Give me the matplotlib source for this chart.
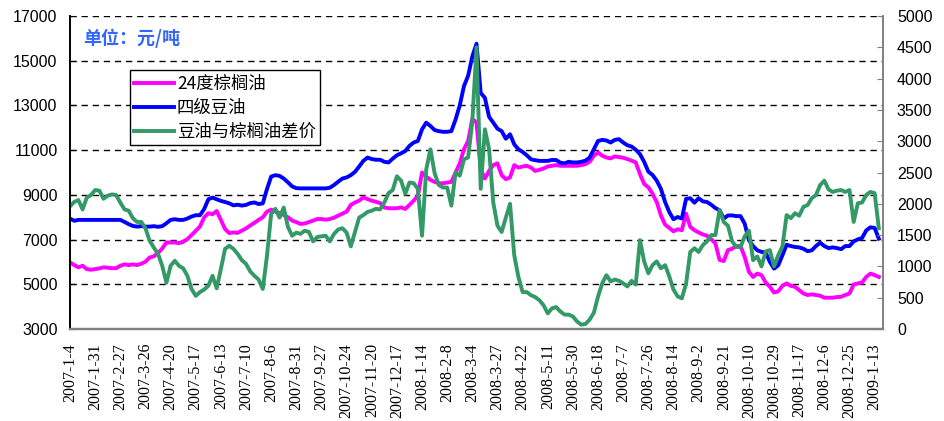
#!/usr/bin/env python3
"""24度棕榈油 vs 四级豆油, with the soy-palm spread on a second axis."""

import matplotlib
matplotlib.use("Agg")
import matplotlib.pyplot as plt
import numpy as np

# tick labels, one every STEP points
DATES = [
    "2007-1-4", "2007-1-31", "2007-2-27", "2007-3-26", "2007-4-20",
    "2007-5-17", "2007-6-13", "2007-7-10", "2007-8-6", "2007-8-31",
    "2007-9-27", "2007-10-24", "2007-11-20", "2007-12-17", "2008-1-14",
    "2008-2-8", "2008-3-4", "2008-3-27", "2008-4-22", "2008-5-11",
    "2008-5-30", "2008-6-18", "2008-7-7", "2008-7-26", "2008-8-14",
    "2008-9-2", "2008-9-21", "2008-10-10", "2008-10-29", "2008-11-17",
    "2008-12-6", "2008-12-25", "2009-1-13",
]
STEP = 6

# 24度棕榈油 (left axis, 元/吨)
PALM = [
    5980, 5860, 5760, 5830, 5680, 5650, 5680, 5710, 5760, 5740,
    5720, 5720, 5830, 5890, 5860, 5890, 5860, 5920, 6010, 6200,
    6250, 6400, 6600, 6870, 6870, 6870, 6840, 6900, 7020, 7200,
    7390, 7580, 7990, 8180, 8130, 8280, 7880, 7470, 7290, 7320,
    7300, 7400, 7500, 7630, 7750, 7880, 8000, 8250, 8340, 8250,
    8190, 8100, 8000, 7850, 7780, 7700, 7720, 7780, 7850, 7920,
    7920, 7890, 7920, 7980, 8070, 8160, 8250, 8550, 8660, 8740,
    8890, 8810, 8740, 8690, 8630, 8440, 8400, 8400, 8400, 8440,
    8370, 8550, 8740, 8960, 10000, 9820, 9670, 9580, 9520, 9520,
    9550, 9580, 10000, 10410, 11040, 11410, 12400, 12230, 10150, 9730,
    10070, 10330, 10410, 9880, 9700, 9780, 10330, 10220, 10270, 10300,
    10220, 10070, 10120, 10180, 10270, 10300, 10330, 10300, 10300, 10300,
    10300, 10300, 10330, 10380, 10480, 10750, 10900, 10750, 10670, 10630,
    10720, 10690, 10660, 10600, 10530, 10450, 9930, 9490, 9340, 9050,
    8680, 8080, 7670, 7520, 7370, 7460, 7420, 8160, 7570, 7420,
    7320, 7230, 7170, 7020, 6830, 6090, 6040, 6530, 6590, 6710,
    6710, 6220, 5560, 5330, 5480, 5410, 5080, 4890, 4630, 4690,
    4930, 5040, 4930, 4890, 4740, 4590, 4520, 4550, 4520, 4490,
    4400, 4400, 4400, 4430, 4440, 4520, 4590, 4990, 5040, 5080,
    5330, 5480, 5410, 5330,
]

# 四级豆油 (left axis, 元/吨)
SOY = [
    7940, 7840, 7880, 7880, 7880, 7880, 7880, 7880, 7880, 7880,
    7880, 7880, 7880, 7790, 7690, 7610, 7580, 7600, 7580, 7580,
    7600, 7570, 7600, 7730, 7880, 7910, 7880, 7880, 7940, 8030,
    8090, 8090, 8360, 8800, 8880, 8800, 8730, 8680, 8620, 8530,
    8560, 8520, 8550, 8630, 8660, 8590, 8620, 9260, 9820, 9880,
    9850, 9730, 9560, 9380, 9300, 9290, 9290, 9290, 9290, 9290,
    9290, 9290, 9320, 9440, 9590, 9730, 9780, 9880, 10030, 10270,
    10520, 10670, 10600, 10570, 10570, 10480, 10450, 10620, 10770, 10860,
    10960, 11190, 11340, 11410, 11930, 12230, 12080, 11900, 11850, 11820,
    11820, 11850, 12370, 13000, 13860, 14330, 15190, 15760, 13560, 13340,
    12490, 12230, 11960, 11850, 11510, 11710, 11260, 11040, 10920, 10770,
    10590, 10550, 10520, 10520, 10520, 10560, 10560, 10440, 10410, 10480,
    10450, 10450, 10480, 10530, 10670, 11040, 11410, 11460, 11430, 11340,
    11460, 11490, 11340, 11220, 11160, 11020, 10820, 10480, 10040, 9890,
    9640, 9270, 8680, 8230, 7910, 8010, 7940, 8820, 8850, 8650,
    8850, 8710, 8680, 8560, 8410, 8310, 7940, 8080, 8080, 8050,
    8050, 7710, 6970, 6710, 6520, 6450, 6420, 6000, 5700, 5850,
    6300, 6770, 6710, 6670, 6650, 6590, 6480, 6520, 6710, 6860,
    6710, 6620, 6650, 6620, 6570, 6710, 6710, 6920, 7010, 7070,
    7410, 7550, 7520, 7040,
]

# 豆油与棕榈油差价 (right axis)
SPREAD = [
    1960, 2030, 2060, 1910, 2100, 2140, 2220, 2210, 2080, 2130,
    2150, 2140, 2020, 1910, 1890, 1770, 1710, 1710, 1610, 1410,
    1300, 1200, 1010, 740, 1010, 1090, 1010, 970, 850, 640,
    530, 590, 630, 690, 850, 650, 960, 1280, 1330, 1280,
    1200, 1100, 1040, 920, 850, 790, 640, 1170, 1840, 1920,
    1780, 1940, 1630, 1490, 1540, 1520, 1570, 1550, 1400, 1470,
    1480, 1490, 1400, 1520, 1590, 1610, 1540, 1320, 1550, 1780,
    1820, 1870, 1890, 1920, 1910, 2020, 2170, 2220, 2440, 2370,
    2160, 2340, 2330, 2240, 1490, 2550, 2870, 2490, 2300, 2260,
    2260, 1970, 2500, 2450, 2710, 2740, 3320, 4500, 2240, 3190,
    2870, 2020, 1650, 1550, 1780, 2000, 1180, 830, 590, 590,
    540, 510, 460, 380, 250, 330, 350, 280, 230, 230,
    200, 120, 70, 80, 150, 260, 520, 730, 860, 760,
    790, 770, 730, 680, 770, 710, 1420, 1080, 890, 1020,
    1080, 970, 1020, 840, 630, 520, 490, 720, 1230, 1290,
    1230, 1340, 1400, 1500, 1500, 1900, 1710, 1650, 1400, 1310,
    1310, 1480, 1570, 1100, 1160, 1000, 1240, 1260, 1000, 1180,
    1320, 1820, 1770, 1850, 1810, 1950, 1980, 2090, 2140, 2300,
    2370, 2230, 2190, 2210, 2220, 2190, 2220, 1710, 2010, 2020,
    2140, 2190, 2170, 1610,
]

CJK = ["Noto Sans CJK SC", "DejaVu Sans"]


def main():
    plt.rcParams["font.family"] = ["Liberation Sans", "Noto Sans CJK SC"]

    fig = plt.figure(figsize=(9.45, 4.21), dpi=100)
    ax = fig.add_axes([0.0741, 0.2185, 0.8603, 0.7435])
    ax2 = ax.twinx()

    x = np.arange(len(SOY))
    lw = 2.8
    l1, = ax.plot(x, PALM, color="#FF00FF", lw=lw, label="24度棕榈油")
    l2, = ax.plot(x, SOY, color="#0000FF", lw=lw, label="四级豆油")
    l3, = ax2.plot(x, SPREAD, color="#339966", lw=lw, label="豆油与棕榈油差价")

    ax.set_xlim(0, 194)
    ax.set_ylim(3000, 17000)
    ax.set_yticks(range(3000, 17001, 2000))
    ax2.set_ylim(0, 5000)
    ax2.set_yticks(range(0, 5001, 500))

    for v in range(5000, 17001, 2000):
        ax.axhline(v, color="black", lw=1.0, ls=(0, (4.5, 3.5)), zorder=0.5)

    ax.set_xticks(range(0, STEP * len(DATES), STEP))
    ax.set_xticklabels(DATES, rotation=90, family="Liberation Serif",
                       fontsize=11.5, va="top", ha="center")
    ax.tick_params(axis="x", length=0, pad=10)
    ax.tick_params(axis="y", direction="in", length=4, labelsize=11.5, pad=9)
    ax2.tick_params(axis="y", direction="in", length=4, labelsize=11.5,
                    pad=10, color="#808080")

    for a in (ax, ax2):
        a.spines["top"].set_visible(False)
        a.spines["bottom"].set_color("#808080")
        a.spines["bottom"].set_linewidth(1.6)
        a.spines["right"].set_color("#808080")
        a.spines["right"].set_linewidth(1.2)
        a.spines["left"].set_color("black")
        a.spines["left"].set_linewidth(1.2)

    ax.text(0.016, 0.93, "单位：元/吨", transform=ax.transAxes, color="#3366FF",
            fontsize=13, fontweight="bold", family=CJK, va="center")

    leg = ax2.legend(handles=[l1, l2, l3], loc="upper left",
                     bbox_to_anchor=(0.0738, 0.826), borderaxespad=0,
                     prop={"family": CJK, "size": 12.5}, frameon=True,
                     fancybox=False, framealpha=1, edgecolor="black",
                     handlelength=2.3, handletextpad=0.15, labelspacing=0.35,
                     borderpad=0.25)
    leg.get_frame().set_linewidth(1.0)

    fig.savefig("out.png", dpi=100)


if __name__ == "__main__":
    main()
